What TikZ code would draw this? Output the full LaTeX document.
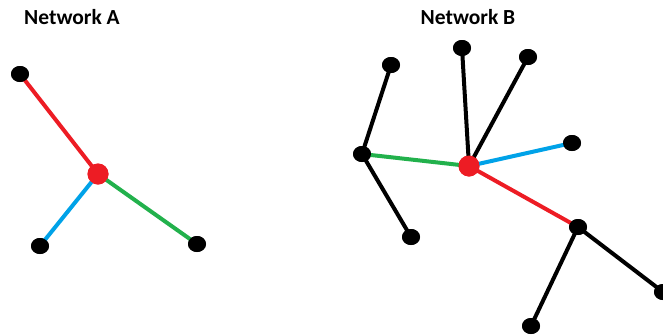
\documentclass[tikz,border=0pt]{standalone}
\usepackage{fontspec}
\setmainfont{Carlito}
\usetikzlibrary{shapes.geometric}
\definecolor{pred}{HTML}{ED1C24}
\definecolor{pgreen}{HTML}{22B14C}
\definecolor{pblue}{HTML}{00A2E8}
\tikzset{
  dot/.style={ellipse, fill=black, inner sep=0pt, minimum width=18pt, minimum height=16pt},
  hub/.style={circle, fill=pred, inner sep=0pt, minimum size=21pt},
  edge/.style={line width=4pt},
  title/.style={font=\bfseries\fontsize{21.5}{24}\selectfont, inner sep=0pt}
}
\begin{document}
\begin{tikzpicture}[x=1pt,y=-1pt]
\useasboundingbox (0,0) rectangle (663,335);
% Network A
\node[title] (ta) at (72,17) {Network A};
\node[dot] (a1) at (20,74) {};
\node[hub] (ac) at (98,174) {};
\node[dot] (a2) at (40,246) {};
\node[dot] (a3) at (197,244) {};
% Network B
\node[title] (tb) at (468,17) {Network B};
\node[dot] (b1) at (362,154) {};
\node[hub] (bc) at (469,166) {};
\node[dot] (b2) at (391,65) {};
\node[dot] (b3) at (411,237) {};
\node[dot] (b4) at (462,48) {};
\node[dot] (b5) at (528,57) {};
\node[dot] (b6) at (572,143) {};
\node[dot] (b7) at (578,227) {};
\node[dot] (b8) at (531,326) {};
\node[dot] (b9) at (663,292) {};
% connectors, drawn centre to centre and then covered by the dots
\draw[edge, pred] (a1.center) -- (ac.center);
\draw[edge, pblue] (ac.center) -- (a2.center);
\draw[edge, pgreen] (ac.center) -- (a3.center);
\draw[edge] (b2.center) -- (b1.center) -- (b3.center);
\draw[edge, pgreen] (b1.center) -- (bc.center);
\draw[edge] (b4.center) -- (bc.center) -- (b5.center);
\draw[edge, pblue] (bc.center) -- (b6.center);
\draw[edge, pred] (bc.center) -- (b7.center);
\draw[edge] (b8.center) -- (b7.center) -- (b9.center);
% redraw the dots on top
\foreach \n/\s in {a1/dot,a2/dot,a3/dot,ac/hub,b1/dot,b2/dot,b3/dot,b4/dot,b5/dot,b6/dot,b7/dot,b8/dot,b9/dot,bc/hub}
  \node[\s] at (\n) {};
\end{tikzpicture}
\end{document}
